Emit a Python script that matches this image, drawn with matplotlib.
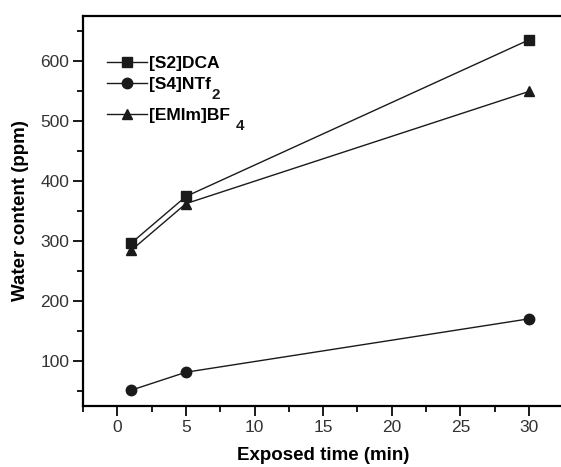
import matplotlib
matplotlib.use('Agg')
import matplotlib.pyplot as plt
from matplotlib.ticker import MultipleLocator

plt.rcParams['font.family'] = ['Liberation Sans', 'DejaVu Sans']

# exposure times (min) and measured water content (ppm)
times = [1, 5, 30]
s2_dca = [296, 374, 635]
s4_ntf2 = [51, 81, 170]
emim_bf4 = [284, 362, 549]

# legend names; subscripts are drawn separately so they stay full-size
labels = ['[S2]DCA', '[S4]NTf', '[EMIm]BF']
subscripts = [None, '2', '4']

fig = plt.figure(figsize=(5.61, 4.67), dpi=100)
ax = fig.add_axes([0.148, 0.131, 0.856, 0.835])

line_kw = dict(color='#1a1a1a', lw=1.0, mec='#1a1a1a', mfc='#1a1a1a')
h1, = ax.plot(times, s2_dca, marker='s', ms=6.5, label=labels[0], **line_kw)
h2, = ax.plot(times, s4_ntf2, marker='o', ms=7.5, label=labels[1], **line_kw)
h3, = ax.plot(times, emim_bf4, marker='^', ms=7.5, label=labels[2], **line_kw)

ax.set_xlim(-2.5, 32.5)
ax.set_ylim(25, 675)
ax.xaxis.set_major_locator(MultipleLocator(5))
ax.xaxis.set_minor_locator(MultipleLocator(2.5))
ax.yaxis.set_minor_locator(MultipleLocator(50))
ax.set_yticks([100, 200, 300, 400, 500, 600])

ax.spines['right'].set_visible(False)
for s in ['left', 'bottom', 'top']:
    ax.spines[s].set_linewidth(1.6)
ax.tick_params(which='both', direction='out', width=1.4, colors='#1a1a1a',
               labelsize=12.5, labelcolor='#333333', top=False, right=False)
ax.tick_params(which='major', length=7, pad=3)
ax.tick_params(which='minor', length=4)

ax.set_xlabel('Exposed time (min)', fontsize=13.5, fontweight='bold', labelpad=9)
ax.set_ylabel('Water content (ppm)', fontsize=13.5, fontweight='bold', labelpad=8)

# legend split in two so the row under the subscript sits lower
leg_kw = dict(frameon=False, handlelength=2.3, handletextpad=0.12,
              borderpad=0, borderaxespad=0, labelspacing=0.38,
              prop={'weight': 'bold', 'size': 12.5})
leg_a = ax.legend([h1, h2], labels[:2], loc='center left',
                  bbox_to_anchor=(0.05, 0.851), **leg_kw)
ax.add_artist(leg_a)
leg_b = ax.legend([h3], labels[2:], loc='center left',
                  bbox_to_anchor=(0.05, 0.744), **leg_kw)

# place the subscripts after the legend text is laid out
fig.canvas.draw()
renderer = fig.canvas.get_renderer()
gaps = {'2': 1, '4': 6}
texts = leg_a.get_texts() + leg_b.get_texts()
for txt, sub in zip(texts, subscripts):
    if sub is None:
        continue
    bb = txt.get_window_extent(renderer)
    _, _, descent = renderer.get_text_width_height_descent(
        txt.get_text(), txt.get_fontproperties(), ismath=False)
    baseline = bb.y0 + descent
    fig.text((bb.x1 + gaps[sub]) / fig.bbox.width,
             (baseline + 1) / fig.bbox.height, sub, fontsize=11,
             fontweight='bold', color='#1a1a1a', ha='left', va='top')

fig.savefig('out.png', dpi=100)
